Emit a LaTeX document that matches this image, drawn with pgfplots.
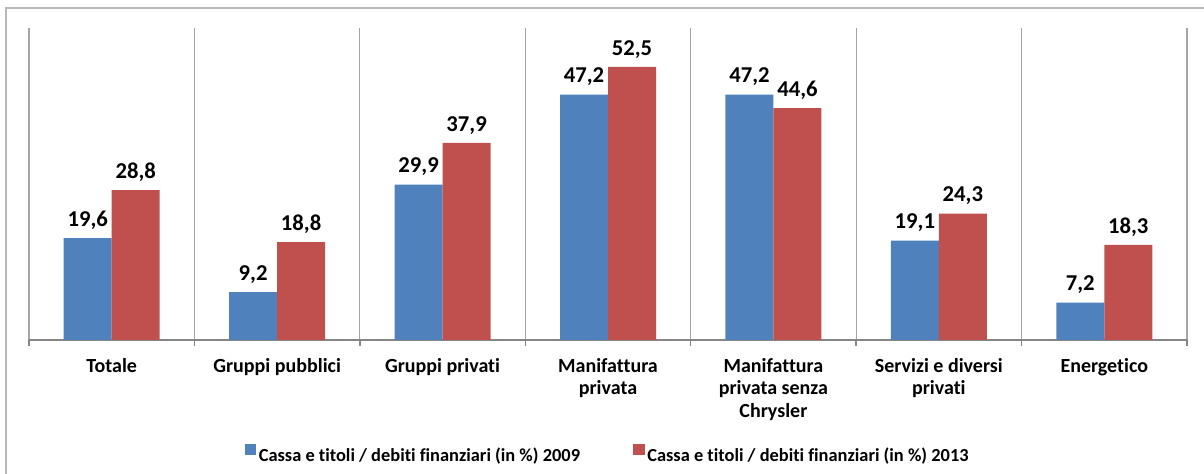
\documentclass[border=0pt]{standalone}
\usepackage{fontspec}
\setmainfont{Carlito}[Ligatures={NoCommon}]
\usepackage{pgfplots}
\pgfplotsset{compat=1.18}
\definecolor{cblue}{RGB}{79,129,189}
\definecolor{cred}{RGB}{192,80,77}
\definecolor{gridc}{RGB}{165,165,165}
\definecolor{axc}{RGB}{134,134,134}
\definecolor{framec}{RGB}{185,185,185}
\begin{document}
\begin{tikzpicture}
\useasboundingbox (0,0) rectangle (903pt,355.5pt);
\draw[framec, line width=1.5pt] (4.5pt,0pt) -- (4.5pt,349.5pt) -- (903pt,349.5pt);
\begin{axis}[
  at={(21.75pt,100.5pt)}, anchor=south west,
  scale only axis, width=868.5pt, height=234pt,
  ymin=0, ymax=60, xmin=-0.5, xmax=6.5,
  ybar=0pt, bar width=36pt,
  axis x line*=bottom, axis y line=none,
  x axis line style={axc, line width=1.5pt, -},
  xtick={0,...,6},
  xticklabels={Totale, Gruppi pubblici, Gruppi privati, Manifattura\\privata, Manifattura\\privata senza\\Chrysler, Servizi e diversi\\privati, Energetico},
  major x tick style={draw=none},
  minor xtick={-0.5,0.5,...,6.5},
  minor tick length=4.5pt,
  tick align=outside,
  minor x tick style={axc, line width=1pt},
  xminorgrids=true, minor x grid style={gridc, line width=0.9pt},
  xticklabel style={align=center, yshift=-6pt, font=\fontsize{15}{16.8}\selectfont\bfseries},
  /pgf/number format/.cd, fixed, fixed zerofill, precision=1, use comma, assume math mode=true,
  /pgfplots/.cd,
  nodes near coords,
  every node near coord/.append style={font=\fontsize{17}{20}\selectfont\bfseries, black, yshift=3pt},
  legend style={at={(0.5,-0.3686)}, anchor=center, draw=none, fill=none,
    font=\fontsize{13.8}{16}\selectfont\bfseries,
    /tikz/every even column/.append style={column sep=38pt}},
  legend columns=2,
  legend image code/.code={\fill[#1] (0pt,0pt) rectangle (8.5pt,8.5pt);},
]
\addplot[fill=cblue, draw=none] coordinates {(0,19.6) (1,9.2) (2,29.9) (3,47.2) (4,47.2) (5,19.1) (6,7.2)};
\addlegendentry{Cassa e titoli / debiti finanziari (in \%) 2009}
\addplot[fill=cred, draw=none] coordinates {(0,28.8) (1,18.8) (2,37.9) (3,52.5) (4,44.6) (5,24.3) (6,18.3)};
\addlegendentry{Cassa e titoli / debiti finanziari (in \%) 2013}
\end{axis}
\end{tikzpicture}
\end{document}
